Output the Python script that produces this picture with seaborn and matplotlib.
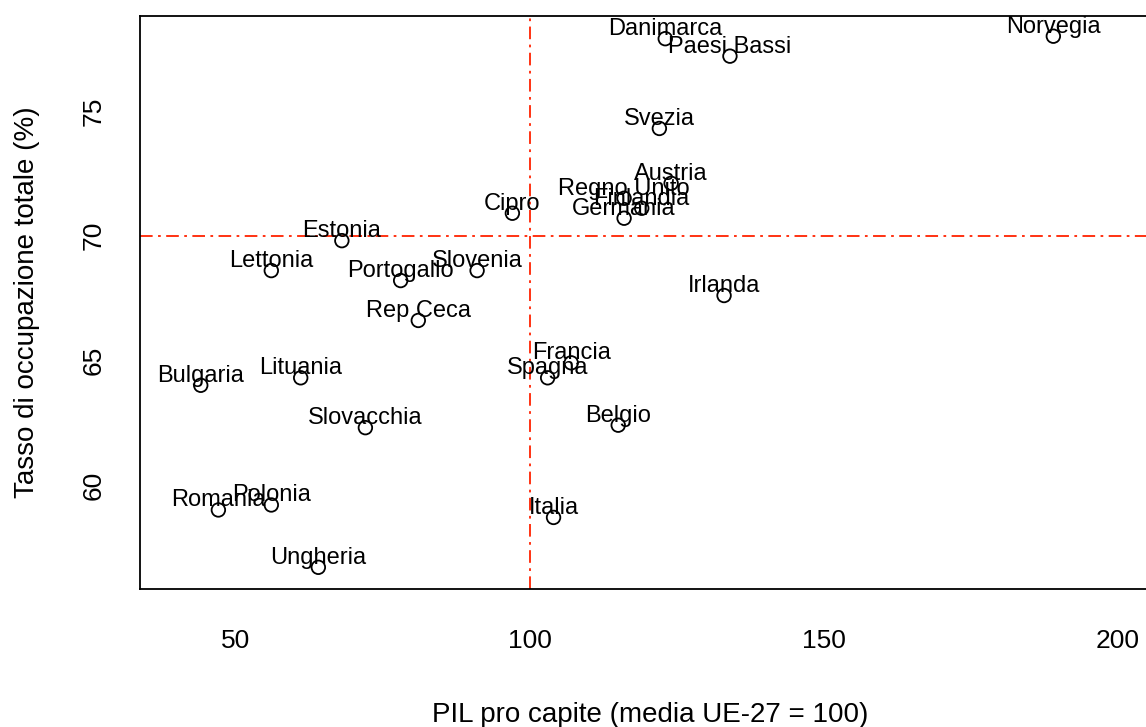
import matplotlib
matplotlib.use("Agg")
import matplotlib.pyplot as plt
import seaborn as sns
import pandas as pd

# dati
paesi = ["Norvegia", "Danimarca", "Paesi Bassi", "Svezia", "Austria", "Regno Unito",
         "Finlandia", "Germania", "Cipro", "Estonia", "Lettonia", "Portogallo",
         "Slovenia", "Rep Ceca", "Bulgaria", "Lituania", "Slovacchia", "Romania",
         "Polonia", "Ungheria", "Italia", "Irlanda", "Francia", "Spagna", "Belgio"]
pil = [189, 123, 134, 122, 124, 116, 119, 116, 97, 68, 56, 78,
       91, 81, 44, 61, 72, 47, 56, 64, 104, 133, 107, 103, 115]
occupazione = [78.0, 77.9, 77.2, 74.3, 72.1, 71.5, 71.1, 70.7, 70.9, 69.8, 68.6, 68.2,
               68.6, 66.6, 64.0, 64.3, 62.3, 59.0, 59.2, 56.7, 58.7, 67.6, 64.9, 64.3, 62.4]
rif_x = 100
rif_y = 70
xticks = [50, 100, 150, 200]
yticks = [60, 65, 70, 75]

df = pd.DataFrame({"paese": paesi, "pil": pil, "occ": occupazione})

sns.set_style("white")
plt.rcParams["font.family"] = ["Liberation Sans", "DejaVu Sans"]

fig = plt.figure(figsize=(11.46, 7.27), dpi=100)
ax = fig.add_axes([140 / 1146, 1 - 589 / 727, 1020 / 1146, 573 / 727])

sns.scatterplot(data=df, x="pil", y="occ", ax=ax, marker="o", s=95,
                facecolors="none", edgecolors="black", linewidth=1.3, zorder=3)

for _, r in df.iterrows():
    ax.annotate(r["paese"], (r["pil"], r["occ"]), xytext=(0, 2.5),
                textcoords="offset points", ha="center", va="baseline",
                fontsize=17, color="black", zorder=4)

ax.axvline(rif_x, color="#ff2200", lw=1.3, ls=(0, (7, 3, 1.5, 3)), zorder=1)
ax.axhline(rif_y, color="#ff2200", lw=1.3, ls=(0, (7, 3, 1.5, 3)), zorder=1)

ax.set_xlim(33.67, 207.14)
ax.set_ylim(55.83, 78.81)
ax.set_xticks(xticks)
ax.set_yticks(yticks)
ax.tick_params(axis="both", direction="out", length=12, width=1.3, color="black",
               labelsize=19, labelcolor="black")
ax.tick_params(axis="x", pad=17)
ax.tick_params(axis="y", pad=13)
for lab in ax.get_yticklabels():
    lab.set_rotation(90)
    lab.set_va("center")

for sp in ax.spines.values():
    sp.set_color("black")
    sp.set_linewidth(1.3)

ax.set_xlabel("PIL pro capite (media UE-27 = 100)", fontsize=20, labelpad=35,
              color="black")
ax.set_ylabel("Tasso di occupazione totale (%)", fontsize=20, labelpad=30,
              color="black")

fig.savefig("out.png", dpi=100)
